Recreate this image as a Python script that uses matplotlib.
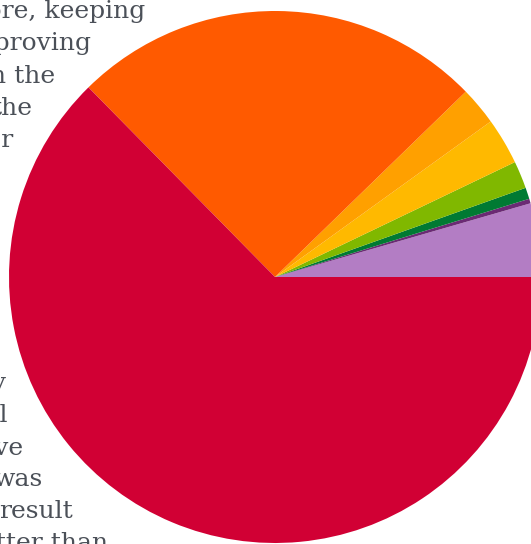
import matplotlib
matplotlib.use("Agg")
import matplotlib.pyplot as plt

# pie slices, counter-clockwise from 3 o'clock (degrees)
slices = ["lavender", "plum", "dark green", "green", "yellow", "amber", "orange", "red"]
shares = [4.47, 0.28, 0.69, 1.67, 2.83, 2.33, 25.1, 62.63]
colors = ["#B37DC4", "#6B2A74", "#007A33", "#80B800", "#FFB900", "#FFA000", "#FF5A00", "#D10034"]

# paragraph text sitting behind the pie (only the tails of the lines show)
topLines = ["more, keeping", "improving", "in the", "the", "for"]
bottomLines = ["early", "will", "have", "was", "result", "better than"]

W, H = 531, 544

fig = plt.figure(figsize=(W / 100, H / 100), dpi=100)
ax = fig.add_axes([0, 0, 1, 1])

textColor = "#4B5058"
textStyle = dict(ha="right", va="baseline", fontsize=18, family="DejaVu Serif",
                 color=textColor, zorder=1)

# right edge (px) and baseline (px from top) for each visible line
topRight = [145, 91, 55, 32, 13]
topBase = [18, 50, 83, 115, 147]
for txt, x, y in zip(topLines, topRight, topBase):
    ax.text(x, H - y, txt, **textStyle)

bottomRight = [7, 8, 23, 43, 73, 108]
bottomBase = [390, 422, 455, 486, 518, 550]
for txt, x, y in zip(bottomLines, bottomRight, bottomBase):
    ax.text(x, H - y, txt, **textStyle)

wedges, _ = ax.pie(shares, colors=colors, startangle=0, counterclock=True,
                   center=(275, H - 277), radius=266, frame=True,
                   wedgeprops=dict(linewidth=0))
for w in wedges:
    w.set_zorder(2)

ax.set_xlim(0, W)
ax.set_ylim(0, H)
ax.set_aspect("auto")
ax.axis("off")

fig.savefig("out.png", dpi=100)
